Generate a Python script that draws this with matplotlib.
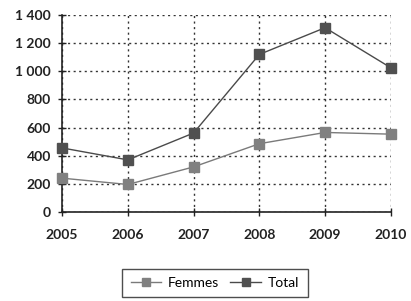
import matplotlib
matplotlib.use("Agg")
import matplotlib.pyplot as plt

years = [2005, 2006, 2007, 2008, 2009, 2010]
femmes = [240, 195, 320, 485, 565, 553]
total = [455, 370, 561, 1120, 1310, 1025]
yticks = [0, 200, 400, 600, 800, 1000, 1200, 1400]
ytick_labels = ["0", "200", "400", "600", "800", "1 000", "1 200", "1 400"]

plt.rcParams["font.family"] = ["Lato", "DejaVu Sans"]

fig = plt.figure(figsize=(4.11, 3.01), dpi=100)
ax = fig.add_axes([0.151, 0.296, 0.80, 0.654])

ax.plot(years, femmes, color="#7a7a7a", lw=1.0, marker="s", ms=6.5,
        mfc="#808080", mec="#808080", label="Femmes", zorder=3, clip_on=False)
ax.plot(years, total, color="#4a4a4a", lw=1.0, marker="s", ms=6.5,
        mfc="#505050", mec="#505050", label="Total", zorder=3, clip_on=False)

ax.set_xlim(2005, 2010)
ax.set_ylim(0, 1400)
ax.set_yticks(yticks)
ax.set_yticklabels(ytick_labels)
ax.set_xticks(years)
ax.set_xticklabels([str(y) for y in years])
ax.grid(True, linestyle=(0, (1.5, 2.5)), color="#333333", lw=1.0)
ax.set_axisbelow(True)
for s in ["top", "right"]:
    ax.spines[s].set_visible(False)
for s in ["left", "bottom"]:
    ax.spines[s].set_color("#222222")
    ax.spines[s].set_linewidth(1.2)
ax.tick_params(direction="inout", length=6, width=1, colors="#222222",
               labelsize=10)
for lab in ax.get_xticklabels() + ax.get_yticklabels():
    lab.set_fontweight("bold")
    lab.set_color("#222222")
ax.tick_params(axis="x", pad=9)
ax.tick_params(axis="y", pad=5)

leg = fig.legend(loc="center", bbox_to_anchor=(0.523, 0.06), ncol=2,
                 frameon=True, fancybox=False, edgecolor="#222222",
                 fontsize=10, handlelength=2.2, handletextpad=0.5,
                 columnspacing=0.8, borderpad=0.6, markerscale=0.9)
leg.get_frame().set_linewidth(1.0)

fig.savefig("out.png", dpi=100)
